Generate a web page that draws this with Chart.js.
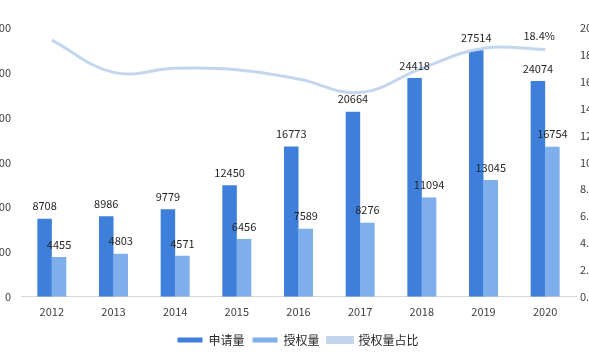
<!DOCTYPE html>
<html>
<head>
<meta charset="utf-8">
<script src="https://cdn.jsdelivr.net/npm/chart.js@4"></script>
<style>
  html, body { margin: 0; padding: 0; background: #fff; overflow: hidden; }
  #wrap { position: relative; width: 589px; height: 360px; overflow: hidden; }
  #chart { position: absolute; left: -30px; top: 0; }
</style>
</head>
<body>
<div id="wrap">
  <canvas id="chart" width="656" height="360"></canvas>
</div>
<script>
// data
const years = ['2012', '2013', '2014', '2015', '2016', '2017', '2018', '2019', '2020'];
const applications = [8708, 8986, 9779, 12450, 16773, 20664, 24418, 27514, 24074];
const grants = [4455, 4803, 4571, 6456, 7589, 8276, 11094, 13045, 16754];
const grantShare = [19.1, 16.7, 17.0, 16.9, 16.2, 15.2, 17.0, 18.5, 18.4];
const seriesNames = ['申请量', '授权量', '授权量占比'];

const FONT = "'Noto Sans CJK SC', 'Noto Sans', sans-serif";

// draws the value above each bar, and the last point of the line
const valueLabels = {
    id: 'valueLabels',
    afterDatasetsDraw(chart) {
        const ctx = chart.ctx;
        ctx.save();
        ctx.font = '11px ' + FONT;
        ctx.fillStyle = '#262626';
        ctx.textAlign = 'center';
        ctx.textBaseline = 'bottom';
        chart.data.datasets.forEach((ds, i) => {
            const meta = chart.getDatasetMeta(i);
            if (ds.type === 'line') {
                const last = meta.data.length - 1;
                const pt = meta.data[last];
                ctx.fillText(ds.data[last].toFixed(1) + '%', pt.x - 6, pt.y - 8);
                return;
            }
            meta.data.forEach((bar, j) => {
                ctx.fillText(ds.data[j], bar.x, bar.y - 7);
            });
        });
        ctx.restore();
    }
};

new Chart(document.getElementById('chart').getContext('2d'), {
    type: 'bar',
    data: {
        labels: years,
        datasets: [{
            label: seriesNames[0],
            data: applications,
            backgroundColor: '#3f7fdc',
            categoryPercentage: 0.47,
            barPercentage: 1,
            yAxisID: 'y'
        }, {
            label: seriesNames[1],
            data: grants,
            backgroundColor: '#7eaeec',
            categoryPercentage: 0.47,
            barPercentage: 1,
            yAxisID: 'y'
        }, {
            type: 'line',
            label: seriesNames[2],
            data: grantShare,
            borderColor: '#c4d5ee',
            backgroundColor: '#c4d5ee',
            borderWidth: 3,
            tension: 0.4,
            pointRadius: 0,
            fill: false,
            order: -1,
            yAxisID: 'y1'
        }]
    },
    options: {
        responsive: false,
        animation: false,
        devicePixelRatio: 1,
        layout: {
            padding: { top: 28, bottom: 4 }
        },
        plugins: {
            tooltip: { enabled: false },
            legend: {
                position: 'bottom',
                labels: {
                    boxWidth: 25,
                    boxHeight: 5,
                    padding: 8,
                    color: '#262626',
                    font: { size: 12, family: FONT },
                    sort: (a, b) => a.datasetIndex - b.datasetIndex
                }
            }
        },
        scales: {
            x: {
                grid: { display: false, drawTicks: false },
                border: { color: '#d9d9d9' },
                ticks: { color: '#404040', font: { size: 11, family: FONT }, padding: 8 }
            },
            y: {
                position: 'left',
                min: 0,
                max: 30000,
                grid: { display: false, drawTicks: false },
                border: { display: false },
                ticks: { stepSize: 5000, color: '#404040', font: { size: 11, family: FONT }, padding: 10 },
                afterFit: s => { s.width = 51; }
            },
            y1: {
                position: 'right',
                min: 0,
                max: 20,
                grid: { display: false, drawTicks: false },
                border: { display: false },
                ticks: {
                    stepSize: 2,
                    color: '#404040',
                    font: { size: 11, family: FONT },
                    padding: 4,
                    callback: v => v.toFixed(1) + '%'
                },
                afterFit: s => { s.width = 50; }
            }
        }
    },
    plugins: [valueLabels]
});
</script>
</body>
</html>
